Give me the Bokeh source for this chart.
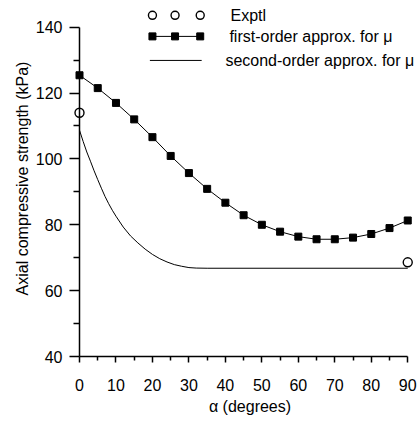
from bokeh.plotting import figure
from bokeh.models import Range1d, Label, FixedTicker
from bokeh.embed import file_html
from bokeh.resources import INLINE

# ---- data ----
alpha_first = [0, 5, 10, 15, 20, 25, 30, 35, 40, 45, 50, 55, 60, 65, 70, 75, 80, 85, 90]
first_order = [125.4, 121.5, 117.0, 112.0, 106.6, 100.9, 95.7, 90.9, 86.7, 82.9,
               80.0, 77.9, 76.4, 75.6, 75.6, 76.1, 77.2, 79.0, 81.3]

alpha_second = [0, 1, 2, 3, 4, 5, 6, 7, 8, 9, 10, 12, 14, 16, 18, 20, 22, 24, 26, 28,
                30, 32, 35, 90]
second_order = [108.7, 105.3, 102.1, 99.3, 96.4, 93.7, 91.1, 88.6, 86.4, 84.4, 82.6,
                79.3, 76.6, 74.5, 72.6, 71.0, 69.7, 68.7, 67.9, 67.4, 67.0, 66.85,
                66.8, 66.8]

alpha_exp = [0, 90]
exptl = [114.0, 68.6]

x_ticks = [0, 10, 20, 30, 40, 50, 60, 70, 80, 90]
x_minor = [5, 15, 25, 35, 45, 55, 65, 75, 85]
y_ticks = [40, 60, 80, 100, 120, 140]
y_minor = [50, 70, 90, 110, 130]

legend_labels = ["Exptl", "first-order approx. for  \u03bc", "second-order approx. for  \u03bc"]

# key layout (data-space positions of the key, above/right of the data)
key_x = [20.0, 26.2, 33.1]
key_line_x = [19.3, 33.5]
key_y = [143.6, 137.2, 129.9]
key_text_x = [41.4, 41.1, 40.0]

FONT = "Liberation Sans"

p = figure(width=420, height=421, output_backend="svg", toolbar_location=None,
           x_range=Range1d(0, 93.5), y_range=Range1d(40, 148.1),
           min_border_left=79, min_border_right=0, min_border_top=0,
           min_border_bottom=65)
p.outline_line_color = None
p.grid.visible = False
p.background_fill_color = "white"
p.border_fill_color = "white"

for ax in (p.xaxis[0], p.yaxis[0]):
    ax.axis_line_width = 1.5
    ax.major_tick_line_width = 1.5
    ax.minor_tick_line_width = 1.5
    ax.major_tick_in = 0
    ax.minor_tick_in = 0
    ax.major_label_text_font = FONT
    ax.major_label_text_font_size = "16px"
    ax.major_label_text_color = "black"
    ax.axis_label_text_font = FONT
    ax.axis_label_text_font_size = "16px"
    ax.axis_label_text_font_style = "normal"
    ax.axis_label_text_color = "black"

p.xaxis.bounds = (0, 90)
p.yaxis.bounds = (40, 140)
p.xaxis.ticker = FixedTicker(ticks=x_ticks, minor_ticks=x_minor)
p.yaxis.ticker = FixedTicker(ticks=y_ticks, minor_ticks=y_minor)
p.xaxis.major_tick_out = 6
p.xaxis.minor_tick_out = 4
p.xaxis.major_label_standoff = 16
p.xaxis.axis_label = "\u03b1 (degrees)"
p.xaxis.axis_label_standoff = 4
p.yaxis.major_tick_out = 10
p.yaxis.minor_tick_out = 6
p.yaxis.major_label_standoff = 7
p.yaxis.axis_label = "Axial compressive strength (kPa)"
p.yaxis.axis_label_standoff = 2

# data
p.line(alpha_second, second_order, line_color="black", line_width=1, level="overlay")
p.line(alpha_first, first_order, line_color="black", line_width=1, level="overlay")
p.scatter(alpha_first, first_order, marker="square", size=7, fill_color="black",
          line_color="black", level="overlay")
p.scatter(alpha_exp, exptl, marker="circle", size=9, fill_color=None,
          line_color="black", line_width=1.4, level="overlay")

# key
p.scatter(key_x, [key_y[0]] * 3, marker="circle", size=8, fill_color=None,
          line_color="black", line_width=1.4, level="overlay")
p.line([key_x[0], key_x[-1]], [key_y[1]] * 2, line_color="black", line_width=1,
       level="overlay")
p.scatter(key_x, [key_y[1]] * 3, marker="square", size=7, fill_color="black",
          line_color="black", level="overlay")
p.line(key_line_x, [key_y[2]] * 2, line_color="black", line_width=1, level="overlay")
for tx, ty, lab in zip(key_text_x, key_y, legend_labels):
    p.add_layout(Label(x=tx, y=ty, text=lab, text_baseline="middle", text_font=FONT,
                       text_font_size="16px", text_color="black"))

open("out.html", "w").write(file_html(p, INLINE))
